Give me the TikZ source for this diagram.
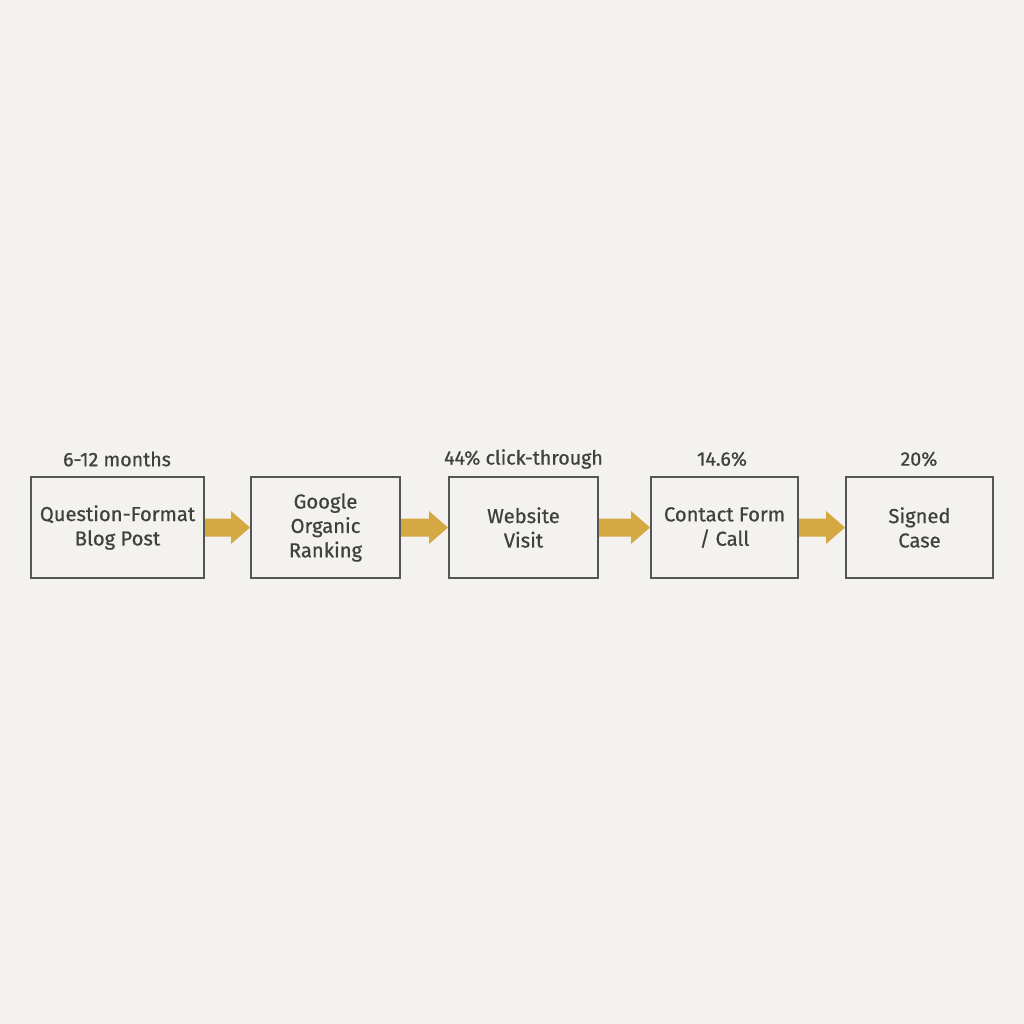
\documentclass[tikz,border=0pt]{standalone}
\usepackage{fontspec}
\setmainfont{Fira Sans}[FakeBold=0.7]
\usetikzlibrary{calc}
\definecolor{bg}{HTML}{F3F2EE}
\definecolor{boxline}{HTML}{555555}
\definecolor{txt}{HTML}{404040}
\definecolor{arrowc}{HTML}{D4A843}
\newcommand\flowarrow[2]{%
  \fill[arrowc] ($(#1.east)+(0,9)$) -- ($(#2.west)+(-19,9)$) -- ($(#2.west)+(-19,16.5)$) -- (#2.west)
    -- ($(#2.west)+(-19,-16.5)$) -- ($(#2.west)+(-19,-9)$) -- ($(#1.east)+(0,-9)$) -- cycle;}
\begin{document}
\begin{tikzpicture}[x=0.5pt,y=-0.5pt,
  stagebox/.style={draw=boxline, line width=1pt, minimum height=50.5pt, text=txt,
    font=\fontsize{10.1}{12.2}\selectfont, align=center, inner sep=0pt},
  toplabel/.style={text=txt, font=\fontsize{9.8}{12}\selectfont, inner sep=0pt}]
\fill[bg] (0,0) rectangle (1024,1024);
\useasboundingbox (0,0) rectangle (1024,1024);
\node[stagebox, minimum width=86.5pt] (b1) at (117.5,527.5) {Question-Format\\Blog Post};
\node[stagebox, minimum width=74.5pt] (b2) at (325.5,527.5) {Google\\Organic\\Ranking};
\node[stagebox, minimum width=74.5pt] (b3) at (523.5,527.5) {Website\\Visit};
\node[stagebox, minimum width=73.5pt] (b4) at (724.5,527.5) {Contact Form\\/ Call};
\node[stagebox, minimum width=73.5pt] (b5) at (919.5,527.5) {Signed\\Case};
\node[toplabel] (l1) at (117,459) {6-12 months};
\node[toplabel] (l3) at (523.5,459) {44\% click-through};
\node[toplabel] (l4) at (722,459) {14.6\%};
\node[toplabel] (l5) at (919,459) {20\%};
\flowarrow{b1}{b2}
\flowarrow{b2}{b3}
\flowarrow{b3}{b4}
\flowarrow{b4}{b5}
\end{tikzpicture}
\end{document}
